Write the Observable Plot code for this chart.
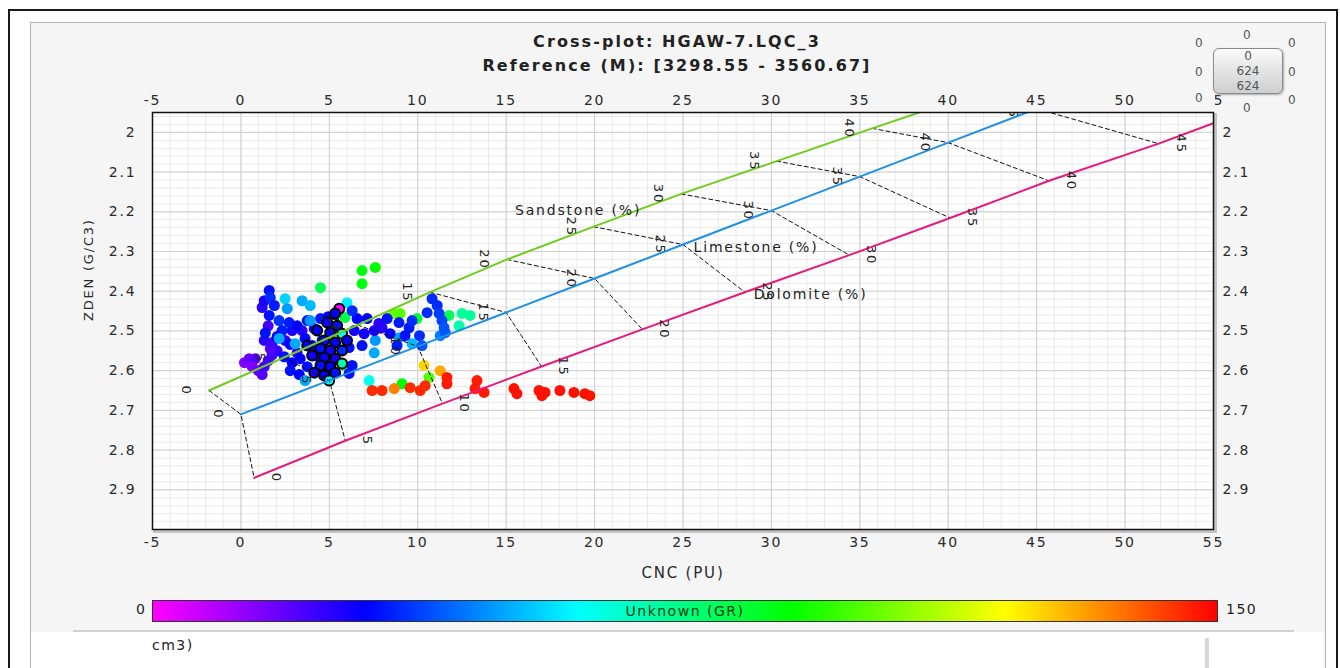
<!DOCTYPE html>
<html><head><meta charset="utf-8">
<script src="https://cdn.jsdelivr.net/npm/d3@7"></script>
<script src="https://cdn.jsdelivr.net/npm/@observablehq/plot@0.6"></script>
<style>
html,body{margin:0;padding:0}
body{width:1340px;height:668px;overflow:hidden;background:#fff;position:relative;font-family:"DejaVu Sans",sans-serif;color:#222}
.abs{position:absolute}
.t{font-weight:bold;font-size:16px;letter-spacing:2.1px;color:#222;text-align:center;width:760px;left:297px;line-height:19px}
.w{font-size:12px;color:#555;line-height:14px}
</style></head><body>
<div class="abs" style="left:8px;top:9px;width:1326px;height:700px;border:2px solid #1a1a1a"></div>
<div class="abs" style="left:30px;top:22px;width:1294px;height:660px;background:#f5f5f5;border:1px solid #b4b4b4"></div>
<div class="abs" style="left:31px;top:632px;width:1293px;height:40px;background:#fff"></div>
<div class="abs" style="left:73px;top:630px;width:1221px;height:2px;background:#d2d2d2"></div>
<div class="abs" style="left:1205px;top:638px;width:4px;height:32px;background:#d8d8d8"></div>
<div class="abs" style="left:152px;top:637px;font-size:14px;letter-spacing:1.5px">cm3)</div>
<div class="abs t" style="top:32px">Cross-plot: HGAW-7.LQC_3</div>
<div class="abs t" style="top:56px">Reference (M): [3298.55 - 3560.67]</div>
<div id="chart"></div>
<div id="legend"></div>
<div id="widget"></div>
<script>
// ---- data ----
const xTicks = [-5, 0, 5, 10, 15, 20, 25, 30, 35, 40, 45, 50, 55];
const yTicks = [2, 2.1, 2.2, 2.3, 2.4, 2.5, 2.6, 2.7, 2.8, 2.9];

const porosity = [0, 5, 10, 15, 20, 25, 30, 35, 40, 45, 50];
const sandCnc  = [-1.8, 2.4, 6.6, 10.7, 15.05, 19.95, 24.9, 30.3, 35.7, 41.2, 46.8];
const sandZden = [2.65, 2.5675, 2.485, 2.4025, 2.32, 2.2375, 2.155, 2.0725, 1.99, 1.9075, 1.825];
const limeCnc  = [0, 5, 10, 15, 20, 25, 30, 35, 40, 45, 50];
const limeZden = [2.71, 2.6245, 2.539, 2.4535, 2.368, 2.2825, 2.197, 2.1115, 2.026, 1.9405, 1.855];
const doloCnc  = [0.75, 5.9, 11.4, 17.0, 22.7, 28.5, 34.4, 40.1, 45.7, 51.9, 57.5];
const doloZden = [2.87, 2.7765, 2.683, 2.5895, 2.496, 2.4025, 2.309, 2.2155, 2.122, 2.0285, 1.935];

const lithoNames = ["Sandstone (%)", "Limestone (%)", "Dolomite (%)"];
const lithoNameCnc = [15.5, 25.6, 29.0];
const lithoNameZden = [2.197, 2.29, 2.408];

const grStops  = [0, 30, 60, 90, 120, 150];
const grColors = ["#ff00ff", "#0000ff", "#00ffff", "#00ff00", "#ffff00", "#ff0000"];

const cnc = [0.20,0.47,0.81,0.64,0.98,1.20,1.32,1.54,1.77,2.05,1.66,1.32,1.77,1.54,1.20,1.32,2.50,3.18,3.46,2.90,
 1.60,1.66,1.89,1.60,2.16,1.38,2.33,2.73,3.18,3.75,4.15,4.50,4.93,2.79,2.45,2.90,3.35,3.75,2.79,3.30,4.03,4.38,3.63,4.59,2.05,
 2.50,3.46,3.92,2.62,3.92,2.16,3.07,3.63,6.00,7.25,7.54,7.60,8.94,9.68,11.27,
 4.50,6.85,7.60,6.85,5.89,9.96,11.77,12.50,12.96,12.34,8.67,9.00,9.11,10.64,5.83,
 10.81,11.10,10.53,11.21,11.37,11.49,11.55,7.80,7.98,7.54,8.94,9.51,10.10,9.28,6.85,6.12,8.83,10.24,6.29,6.12,6.57,7.14,8.27,6.41,6.97,8.44,9.68,6.29,
 10.36,11.27,
 7.42,7.98,8.67,9.57,10.14,10.42,11.65,11.65,13.35,13.24,13.75,15.44,15.61,16.86,17.20,17.02,18.04,18.83,19.45,19.73];
const zden = [2.580,2.570,2.570,2.590,2.600,2.610,2.590,2.575,2.560,2.550,2.545,2.524,2.529,2.487,2.441,2.424,2.524,2.555,2.499,2.499,
 2.398,2.416,2.436,2.461,2.474,2.505,2.499,2.479,2.487,2.474,2.494,2.469,2.464,2.534,2.565,2.580,2.570,2.590,2.600,2.610,2.537,2.565,2.519,2.524,2.514,
 2.419,2.424,2.436,2.444,2.474,2.519,2.532,2.625,2.429,2.625,2.555,2.524,2.517,2.532,2.512,
 2.391,2.348,2.340,2.381,2.466,2.469,2.461,2.456,2.461,2.487,2.456,2.456,2.633,2.617,2.587,
 2.419,2.436,2.454,2.456,2.474,2.492,2.504,2.481,2.492,2.499,2.479,2.492,2.512,2.512,2.537,2.542,2.537,2.537,2.587,2.607,2.469,2.469,2.469,2.499,2.507,2.507,2.474,2.449,
 2.587,2.600,
 2.650,2.650,2.645,2.643,2.650,2.638,2.617,2.633,2.625,2.645,2.655,2.645,2.658,2.650,2.655,2.663,2.650,2.655,2.658,2.663];
const gr = [15,18,20,15,18,20,22,22,22,24,20,25,23,22,25,27,24,25,25,27,
 32,35,33,32,36,32,33,33,30,32,30,33,30,30,32,30,30,32,32,30,30,30,31,32,30,
 55,50,52,48,48,50,50,50,58,62,50,48,50,52,45,
 80,88,90,88,82,85,80,72,72,70,102,100,90,100,80,
 35,35,35,37,38,40,40,25,25,27,33,33,35,32,32,32,33,40,32,32,30,30,32,28,28,30,35,35,
 125,130,
 145,145,135,145,145,145,147,147,147,147,147,148,148,148,148,148,148,148,148,148];

// points drawn with a black outline (highlighted)
const hiCnc  = [5.56,5.33,4.88,5.44,5.05,5.72,4.71,5.33,4.50,5.05,5.72,4.71,5.33,4.50,5.05,5.72,4.15,4.71,5.33,4.99,4.31,6.00,4.03,3.75];
const hiZden = [2.444,2.456,2.479,2.487,2.504,2.507,2.524,2.529,2.544,2.549,2.549,2.567,2.570,2.587,2.590,2.582,2.605,2.612,2.605,2.625,2.499,2.524,2.562,2.537];
const hiGr   = [0,30,28,32,30,60,28,30,32,28,35,30,28,32,30,70,28,30,32,60,30,30,28,30];

// ---- build ----
const pts = cnc.map((c, i) => ({cnc: c, zden: zden[i], gr: gr[i]}));
const hi = hiCnc.map((c, i) => ({cnc: c, zden: hiZden[i], gr: hiGr[i]}));
const litho = (cs, zs) => porosity.map((p, i) => ({p, cnc: cs[i], zden: zs[i]}));
const sand = litho(sandCnc, sandZden), lime = litho(limeCnc, limeZden), dolo = litho(doloCnc, doloZden);
const iso = porosity.flatMap((p, i) => [sand[i], lime[i], dolo[i]]);
const names = lithoNames.map((n, i) => ({n, cnc: lithoNameCnc[i], zden: lithoNameZden[i]}));
const lbl = a => a.filter(d => d.p <= 45);

const xMinor = d3.range(-5, 55.001, 1);
const yMinor = d3.range(1.96, 3.0, 0.02);
const fmt = d => String(+d.toFixed(2));

const chart = Plot.plot({
  width: 1340, height: 510,
  marginLeft: 152, marginRight: 127, marginTop: 32, marginBottom: 61,
  style: {background: "transparent", fontFamily: "DejaVu Sans, sans-serif", fontSize: "14px", letterSpacing: "1.8px", color: "#2a2a2a"},
  x: {domain: [-5, 55], label: null},
  y: {domain: [1.95, 3.0], reverse: true, label: null},
  color: {type: "linear", domain: grStops, range: grColors, interpolate: "rgb"},
  marks: [
    Plot.frame({stroke: "#c4c4c4", strokeWidth: 3, dx: 2, dy: 2}),
    Plot.frame({fill: "#fff", stroke: null}),
    Plot.ruleX(xMinor, {stroke: "#eaeaea"}),
    Plot.ruleY(yMinor, {stroke: "#eaeaea"}),
    Plot.ruleX(xTicks, {stroke: "#cfcfcf"}),
    Plot.ruleY(yTicks, {stroke: "#cfcfcf"}),
    Plot.dot(pts, {x: "cnc", y: "zden", fill: "gr", r: 5.5, clip: true}),
    Plot.dot(hi, {x: "cnc", y: "zden", fill: "gr", r: 5, stroke: "#000", strokeWidth: 2, clip: true}),
    Plot.line(iso, {x: "cnc", y: "zden", z: "p", stroke: "#111", strokeWidth: 1, strokeDasharray: "4,3", clip: true}),
    Plot.line(sand, {x: "cnc", y: "zden", stroke: "#6fcc1c", strokeWidth: 2, clip: true}),
    Plot.line(lime, {x: "cnc", y: "zden", stroke: "#1e90e6", strokeWidth: 2, clip: true}),
    Plot.line(dolo, {x: "cnc", y: "zden", stroke: "#e8187c", strokeWidth: 2, clip: true}),
    Plot.text(lbl(sand), {x: "cnc", y: "zden", text: d => String(d.p), rotate: 90, dx: -23, fontSize: 13, fill: "#222", clip: true}),
    Plot.text(lbl(lime), {x: "cnc", y: "zden", text: d => String(d.p), rotate: 90, dx: -23, fontSize: 13, fill: "#222", clip: true}),
    Plot.text(lbl(dolo), {x: "cnc", y: "zden", text: d => String(d.p), rotate: 90, dx: 22, fontSize: 13, fill: "#222", clip: true}),
    Plot.text(names, {x: "cnc", y: "zden", text: "n", textAnchor: "start", fontSize: 14, fill: "#222", letterSpacing: "1px"}),
    Plot.frame({stroke: "#111", strokeWidth: 1.5}),
    Plot.axisX(xTicks, {anchor: "top", tickSize: 0, tickPadding: 8, tickFormat: fmt, label: null, fontSize: 14}),
    Plot.axisX(xTicks, {anchor: "bottom", tickSize: 0, tickPadding: 8, tickFormat: fmt, fontSize: 14}),
    Plot.axisY(yTicks, {anchor: "left", tickSize: 0, tickPadding: 16, tickFormat: fmt, fontSize: 14, label: null}),
    Plot.axisY(yTicks, {anchor: "right", tickSize: 0, tickPadding: 9, tickFormat: fmt, label: null, fontSize: 14}),
    Plot.text(["CNC (PU)"], {frameAnchor: "bottom", dy: 48, fontSize: 15, letterSpacing: "2.5px", fill: "#2a2a2a"}),
    Plot.text(["ZDEN (G/C3)"], {frameAnchor: "left", dx: -64, rotate: -90, fontSize: 13, letterSpacing: "0.8px", fill: "#2a2a2a"})
  ]
});
chart.style.position = "absolute";
chart.style.left = "0px";
chart.style.top = "80px";
document.getElementById("chart").appendChild(chart);

// colour bar legend (same stops as the colour scale)
const grad = grStops.map((s, i) => `${grColors[i]} ${(s - grStops[0]) / (grStops[grStops.length - 1] - grStops[0]) * 100}%`).join(",");
document.getElementById("legend").innerHTML = `
<div class="abs" style="left:152px;top:600px;width:1064px;height:20px;border:1px solid #333;background:linear-gradient(to right,${grad});
 font-size:14px;letter-spacing:1.5px;line-height:20px;text-align:center;color:#163a16">Unknown (GR)</div>
<div class="abs" style="left:110px;top:601px;width:36px;text-align:right;font-size:14px;letter-spacing:1px">${grStops[0]}</div>
<div class="abs" style="left:1226px;top:601px;font-size:14px;letter-spacing:1.5px">${grStops[grStops.length - 1]}</div>`;

// top-right control widget
document.getElementById("widget").innerHTML = `
<div class="abs w" style="left:1195px;top:36px">0</div>
<div class="abs w" style="left:1243px;top:28px">0</div>
<div class="abs w" style="left:1288px;top:36px">0</div>
<div class="abs w" style="left:1195px;top:65px">0</div>
<div class="abs w" style="left:1288px;top:65px">0</div>
<div class="abs w" style="left:1192px;top:91px;width:20px;height:16px;background:#f5f5f5;padding-left:3px">0</div>
<div class="abs w" style="left:1243px;top:101px">0</div>
<div class="abs w" style="left:1288px;top:93px">0</div>
<div class="abs" style="left:1213px;top:48px;width:68px;height:44px;border:1px solid #8a8a8a;border-radius:6px;
 background:linear-gradient(#fafafa,#e4e4e4 50%,#cfcfcf);box-shadow:1px 1px 2px #aaa;font-size:12px;color:#555;text-align:center;line-height:15px">0<br>624<br>624</div>`;
</script>
</body></html>
